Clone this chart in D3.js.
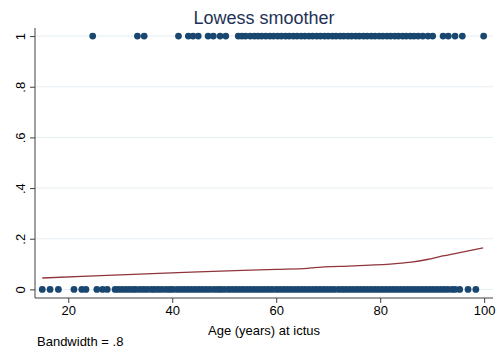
<!DOCTYPE html>
<html>
<head>
<meta charset="utf-8">
<script src="https://cdn.jsdelivr.net/npm/d3@7"></script>
<style>
  body { margin: 0; background: #fff; }
  svg { display: block; font-family: "Liberation Sans", Arial, sans-serif; }
</style>
</head>
<body>
<div id="rootDiv"></div>
<script>
// ages of patients with outcome 0 / outcome 1
const ageOutcome0 = [15, 16.5, 18.1, 21.1, 22.6, 23.4, 25.5, 26.6, 27.5, 29, 29.6, 30.3, 31, 31.7, 32.4,
    33, 33.8, 34.5, 35.2, 36, 36.6, 37.3, 38, 38.8, 39.5, 40.1, 40.9, 41.6, 42.3, 43, 43.7, 44.4,
    45.1, 45.8, 46.5, 47.2, 48, 48.7, 49.3, 50, 50.8, 51.5, 52.2, 52.9, 53.6, 54.3, 55, 55.7, 56.4,
    57.1, 57.8, 58.5, 59.2, 60, 60.7, 61.4, 62.1, 62.8, 63.5, 64.2, 64.9, 65.6, 66.3, 67, 67.7, 68.4,
    69.1, 69.8, 70.5, 71.2, 72, 72.7, 73.4, 74.1, 74.8, 75.5, 76.2, 76.9, 77.6, 78.3, 79, 79.7, 80.4,
    81.1, 81.8, 82.5, 83.2, 83.9, 84.6, 85.3, 86, 86.7, 87.4, 88.1, 88.8, 89.5, 90.2, 90.9, 91.6,
    92.3, 93, 93.8, 94.4, 95.3, 96.9, 98.4]
const ageOutcome1 = [24.7, 33.3, 34.6, 41.2, 43.1, 44, 45, 46.9, 47.9, 49.2, 50.3, 52.7, 53.4, 54.1,
    55, 55.8, 56.5, 57.2, 58, 58.8, 59.5, 60.3, 61, 61.8, 62.5, 63.3, 64, 64.8, 65.5, 66.3, 67, 67.8,
    68.5, 69.3, 70, 70.8, 71.5, 72.3, 73, 73.8, 74.5, 75.3, 76, 76.8, 77.5, 78.3, 79, 79.8, 80.5,
    81.3, 82, 82.8, 83.5, 84.3, 85, 85.8, 86.5, 87.3, 88.2, 89.2, 90.1, 92.1, 93.1, 94.4, 95.8, 99.9]

// lowess fit
const lowessAge = [15, 25, 35, 45, 55, 60, 66, 67.3, 75, 83, 86, 89, 92, 96, 99.8]
const lowessFit = [0.045, 0.053, 0.061, 0.069, 0.076, 0.079, 0.083, 0.086, 0.093, 0.102, 0.108, 0.118, 0.132, 0.148, 0.164]

const xTicks = [20, 40, 60, 80, 100]
const yTicks = [0, 0.2, 0.4, 0.6, 0.8, 1]

const titleText = "Lowess smoother"
const xLabel = "Age (years) at ictus"
const noteText = "Bandwidth = .8"

const W = 502, H = 350
const plot = { left: 35, right: 493, top: 28, bottom: 298 }

const navy = "#1a476f"
const maroon = "#90353b"

const x = d3.scaleLinear().domain([13.6, 101.7]).range([plot.left, plot.right])
const y = d3.scaleLinear().domain([-0.034, 1.032]).range([plot.bottom, plot.top])

const svg = d3.select("#rootDiv").append("svg")
    .attr("width", W)
    .attr("height", H)

// gridlines
svg.append("g")
    .selectAll("line")
    .data(yTicks)
    .enter()
    .append("line")
    .attr("x1", plot.left)
    .attr("x2", plot.right)
    .attr("y1", d => y(d))
    .attr("y2", d => y(d))
    .attr("stroke", "#e6eef2")
    .attr("stroke-width", 1)

const fmt = d => d === 0 ? "0" : d === 1 ? "1" : d3.format(".1f")(d).replace(/^0/, "")

const yAxis = svg.append("g")
    .attr("transform", `translate(${plot.left},0)`)
    .call(d3.axisLeft(y).tickValues(yTicks).tickSize(5).tickPadding(0).tickFormat(fmt))
// tick groups are already translated to y(d); only rotate the label
yAxis.selectAll("text")
    .attr("x", 0).attr("y", 0).attr("dy", null)
    .attr("transform", "translate(-15,0) rotate(-90)")
    .attr("text-anchor", "middle")
    .attr("dominant-baseline", "central")

const xAxis = svg.append("g")
    .attr("transform", `translate(0,${plot.bottom})`)
    .call(d3.axisBottom(x).tickValues(xTicks).tickSize(5).tickPadding(3))

for (const axis of [xAxis, yAxis]) {
    axis.select(".domain").attr("stroke", "#404040")
    axis.selectAll("line").attr("stroke", "#404040")
    axis.selectAll("text").attr("fill", "#000").style("font-size", "13px")
        .style("font-family", "'Liberation Sans', Arial, sans-serif")
}
// extend axis line to full plot width
xAxis.select(".domain").attr("d", `M${plot.left},0H${plot.right}`)
yAxis.select(".domain").attr("d", `M0,${plot.top}V${plot.bottom}`)

// points
const pts = svg.append("g").attr("fill", navy)
pts.selectAll("circle.p0")
    .data(ageOutcome0)
    .enter()
    .append("circle")
    .attr("class", "p0")
    .attr("cx", d => x(d))
    .attr("cy", y(0))
    .attr("r", 3.4)
pts.selectAll("circle.p1")
    .data(ageOutcome1)
    .enter()
    .append("circle")
    .attr("class", "p1")
    .attr("cx", d => x(d))
    .attr("cy", y(1))
    .attr("r", 3.4)

// lowess line
const line = d3.line()
    .x(i => x(lowessAge[i]))
    .y(i => y(lowessFit[i]))
    .curve(d3.curveMonotoneX)
svg.append("path")
    .attr("d", line(d3.range(lowessAge.length)))
    .attr("fill", "none")
    .attr("stroke", maroon)
    .attr("stroke-width", 1.3)

// title and labels
svg.append("text")
    .attr("x", (plot.left + plot.right) / 2)
    .attr("y", 24)
    .attr("text-anchor", "middle")
    .attr("fill", "#1e3256")
    .style("font-size", "18px")
    .text(titleText)

svg.append("text")
    .attr("x", (plot.left + plot.right) / 2)
    .attr("y", 335)
    .attr("text-anchor", "middle")
    .attr("fill", "#000")
    .style("font-size", "13px")
    .text(xLabel)

svg.append("text")
    .attr("x", 37)
    .attr("y", 346)
    .attr("fill", "#000")
    .style("font-size", "13px")
    .text(noteText)
</script>
</body>
</html>
